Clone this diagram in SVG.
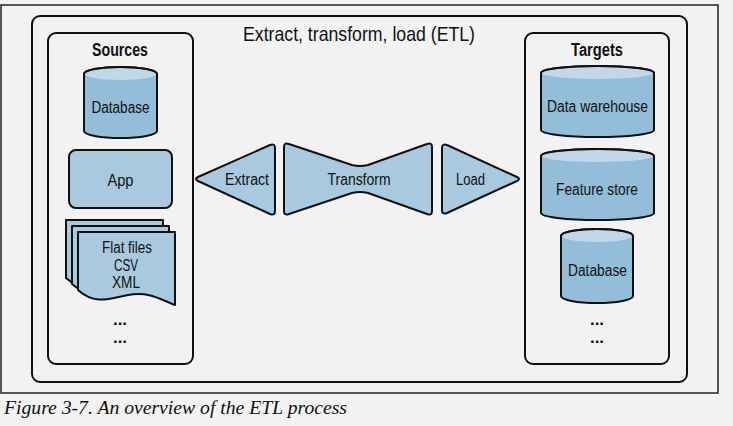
<svg xmlns="http://www.w3.org/2000/svg" width="733" height="426" viewBox="0 0 733 426">
<defs>
<style>
.lbl{font-family:"Liberation Sans",Arial,sans-serif;font-size:16px;fill:#111;text-anchor:middle}
.hdr{font-family:"Liberation Sans",Arial,sans-serif;font-size:18px;font-weight:bold;fill:#111;text-anchor:middle}
.ttl{font-family:"Liberation Sans",Arial,sans-serif;font-size:21px;fill:#111;text-anchor:middle}
.box{fill:none;stroke:#111;stroke-width:2}
.shape{fill:#a9c9df;stroke:#111;stroke-width:2;stroke-linejoin:round}
.cylb{fill:#93bdd9;stroke:#111;stroke-width:2}
.cylt{fill:#c0d8e8;stroke:none}
.cyls{fill:none;stroke:#111;stroke-width:2}
.dots{font-family:"Liberation Sans",Arial,sans-serif;font-size:17px;font-weight:bold;fill:#111;text-anchor:middle}
</style>
<path id="doc" d="M78,232 H175 V305 C160,299 148,291 128,295 C108,299 95,305 78,290 Z"/>
</defs>
<rect x="0" y="0" width="733" height="426" fill="#f2f2f2"/>
<rect x="1" y="5" width="717" height="388" fill="none" stroke="#222" stroke-width="1.5"/>
<text x="4" y="414" font-family="Liberation Serif,serif" font-style="italic" font-size="19.5" fill="#111" textLength="343" lengthAdjust="spacingAndGlyphs">Figure 3-7. An overview of the ETL process</text>

<g id="etl">
<rect class="box" x="32" y="16" width="655" height="366" rx="8"/>
<text class="ttl" x="359" y="41" textLength="232" lengthAdjust="spacingAndGlyphs">Extract, transform, load (ETL)</text>
</g>

<g id="sources">
<rect class="box" x="48" y="33" width="145" height="331" rx="8"/>
<text class="hdr" x="120" y="56" textLength="56" lengthAdjust="spacingAndGlyphs">Sources</text>
</g>

<g id="src-database">
<path class="cylb" d="M84,74 A36.5,7 0 0 1 157,74 V131 A36.5,7 0 0 1 84,131 Z"/>
<ellipse class="cylt" cx="120.5" cy="74" rx="35.5" ry="6"/>
<path class="cyls" d="M84,74 A36.5,7 0 0 1 157,74"/>
<text class="lbl" x="120.5" y="113" textLength="58" lengthAdjust="spacingAndGlyphs">Database</text>
</g>

<g id="app">
<rect class="shape" x="69" y="150" width="103" height="58" rx="7"/>
<text class="lbl" x="120.5" y="186" textLength="26" lengthAdjust="spacingAndGlyphs">App</text>
</g>

<g id="flat-files">
<use href="#doc" class="shape" transform="translate(-12,-12)"/>
<use href="#doc" class="shape" transform="translate(-6,-6)"/>
<use href="#doc" class="shape"/>
<text class="lbl" x="127" y="253" textLength="50" lengthAdjust="spacingAndGlyphs">Flat files</text>
<text class="lbl" x="126" y="271" textLength="24" lengthAdjust="spacingAndGlyphs">CSV</text>
<text class="lbl" x="126" y="288" textLength="28" lengthAdjust="spacingAndGlyphs">XML</text>
</g>
<g id="src-more">
<text class="dots" x="120" y="325">...</text>
<text class="dots" x="120" y="343">...</text>
</g>

<g id="extract">
<path class="shape" d="M198,177 L270,145 Q275,143 275,148 V211 Q275,216 270,214 L198,181 Q194,179 198,177 Z"/>
<text class="lbl" x="247" y="185" textLength="44" lengthAdjust="spacingAndGlyphs">Extract</text>
</g>

<g id="transform">
<path class="shape" d="M289,144 L352,165 Q360,167 368,165 L427,144 Q432,142 432,147 V211 Q432,216 427,214 L368,193 Q360,191 352,193 L289,214 Q284,216 284,211 V147 Q284,142 289,144 Z"/>
<text class="lbl" x="359" y="185" textLength="63" lengthAdjust="spacingAndGlyphs">Transform</text>
</g>

<g id="load">
<path class="shape" d="M447,145 L517,177 Q521,179 517,181 L447,213 Q442,215 442,210 V148 Q442,143 447,145 Z"/>
<text class="lbl" x="470.5" y="185" textLength="29" lengthAdjust="spacingAndGlyphs">Load</text>
</g>

<g id="connectors"></g>

<g id="targets">
<rect class="box" x="525" y="33" width="144" height="331" rx="8"/>
<text class="hdr" x="597" y="56" textLength="52" lengthAdjust="spacingAndGlyphs">Targets</text>
</g>

<g id="data-warehouse">
<path class="cylb" d="M541,73 A56.5,7 0 0 1 654,73 V130 A56.5,7 0 0 1 541,130 Z"/>
<ellipse class="cylt" cx="597.5" cy="73" rx="55.5" ry="6"/>
<path class="cyls" d="M541,73 A56.5,7 0 0 1 654,73"/>
<text class="lbl" x="597.5" y="112" textLength="101" lengthAdjust="spacingAndGlyphs">Data warehouse</text>
</g>

<g id="feature-store">
<path class="cylb" d="M541,156 A56.5,7 0 0 1 654,156 V213 A56.5,7 0 0 1 541,213 Z"/>
<ellipse class="cylt" cx="597.5" cy="156" rx="55.5" ry="6"/>
<path class="cyls" d="M541,156 A56.5,7 0 0 1 654,156"/>
<text class="lbl" x="597" y="195" textLength="82" lengthAdjust="spacingAndGlyphs">Feature store</text>
</g>

<g id="tgt-database">
<path class="cylb" d="M561,236 A36,7 0 0 1 633,236 V296 A36,7 0 0 1 561,296 Z"/>
<ellipse class="cylt" cx="597" cy="236" rx="35" ry="6"/>
<path class="cyls" d="M561,236 A36,7 0 0 1 633,236"/>
<text class="lbl" x="597.5" y="276" textLength="59" lengthAdjust="spacingAndGlyphs">Database</text>
</g>
<g id="tgt-more">
<text class="dots" x="597" y="325">...</text>
<text class="dots" x="597" y="343">...</text>
</g>
</svg>
